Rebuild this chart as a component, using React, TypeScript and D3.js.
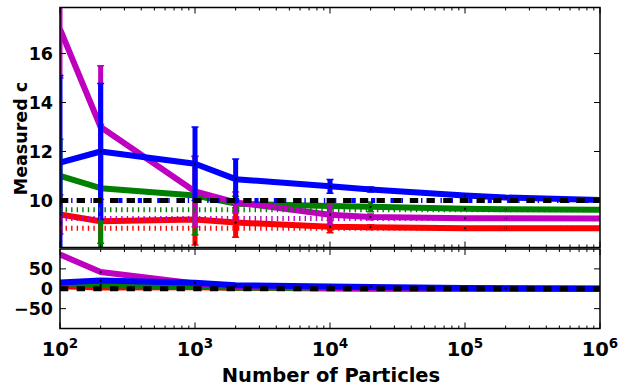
import React from 'react';
import * as d3 from 'd3';

// ---------- data ----------
const particles = [100, 200, 1000, 2000, 10000, 20000, 100000, 200000, 1000000];

const blueC = [11.55, 12.0, 11.5, 10.87, 10.58, 10.45, 10.2, 10.12, 10.02];
const blueErr = [3.55, 2.78, 1.5, 0.82, 0.28, 0.1, 0.05, 0.04, 0.03];
const greenC = [11.0, 10.5, 10.2, 9.87, 9.77, 9.74, 9.66, 9.64, 9.62];
const greenErr = [1.5, 2.6, 1.6, 0.3, 0.1, 0.2, 0.05, 0.04, 0.03];
const magentaC = [17.0, 13.0, 10.37, 9.92, 9.42, 9.33, 9.27, 9.27, 9.26];
const magentaErr = [2.0, 2.5, 1.44, 0.43, 0.39, 0.12, 0.05, 0.04, 0.03];
const redC = [9.43, 9.15, 9.22, 9.1, 8.93, 8.91, 8.87, 8.87, 8.87];
const redErr = [0.8, 0.9, 1.04, 0.6, 0.25, 0.1, 0.05, 0.04, 0.03];

// percent deviation from the true value (lower panel)
const blueDev = [16, 20.5, 15, 8.7, 5.8, 4.5, 2, 1.2, 0.2];
const greenDev = [14.3, 9.1, 6.0, 2.6, 1.6, 1.2, 0.4, 0.2, 0];
const magentaDev = [86, 42, 13, 7.1, 1.7, 0.8, 0.1, 0.1, 0];
const redDev = [6.3, 3.2, 3.9, 2.6, 0.9, 0.5, 0, 0, 0];

// true values (reference lines)
const trueBlue = 10;
const trueGreen = 9.62;
const trueMagenta = 9.26;
const trueRed = 8.87;
const trueBlack = 10;

const xTickExponents = [2, 3, 4, 5, 6];
const topYTicks = [10, 12, 14, 16];
const bottomYTicks = [-50, 0, 50];

const COLORS = { blue: '#0000ff', green: '#008000', magenta: '#bf00bf', red: '#ff0000', black: '#000000' };

// draw order: bottom -> top
const series = [
  { name: 'red', color: COLORS.red, c: redC, err: redErr, dev: redDev },
  { name: 'green', color: COLORS.green, c: greenC, err: greenErr, dev: greenDev },
  { name: 'magenta', color: COLORS.magenta, c: magentaC, err: magentaErr, dev: magentaDev },
  { name: 'blue', color: COLORS.blue, c: blueC, err: blueErr, dev: blueDev },
];

const refLines = [
  { value: trueBlue, color: COLORS.blue, dash: '4.17 6.94 1.39 6.94' },
  { value: trueGreen, color: COLORS.green, dash: '1.39 4.17' },
  { value: trueMagenta, color: COLORS.magenta, dash: '1.39 4.17' },
  { value: trueRed, color: COLORS.red, dash: '1.39 4.17' },
];

const FONT = '"DejaVu Sans", sans-serif';

export default function App() {
  const W = 630, H = 391;
  const L = 60, R = 600;
  const tY0 = 7.5, tY1 = 247.5, bY0 = 249, bY1 = 328.5;

  const x = d3.scaleLog().domain([1e2, 1e6]).range([L, R]);
  const yTop = d3.scaleLinear().domain([8.08, 17.88]).range([tY1, tY0]);
  const yBot = d3.scaleLinear().domain([-100, 100]).range([bY1, bY0]);

  const majorX = xTickExponents.map((e) => Math.pow(10, e));
  const minorX: number[] = [];
  for (let e = 2; e < 6; e++) for (let k = 2; k <= 9; k++) minorX.push(k * Math.pow(10, e));

  const lineTop = (vals: number[]) =>
    d3.line<number>().x((_, i) => x(particles[i])).y((d) => yTop(d))(vals) || '';
  const lineBot = (vals: number[]) =>
    d3.line<number>().x((_, i) => x(particles[i])).y((d) => yBot(d))(vals) || '';

  const LW = 6;

  const xTicksFor = (yEdge: number, dir: number, key: string) => (
    <g key={key}>
      {majorX.map((v) => (
        <line key={'M' + v} x1={x(v)} x2={x(v)} y1={yEdge} y2={yEdge + dir * 6} stroke="#000" strokeWidth={1} />
      ))}
      {minorX.map((v) => (
        <line key={'m' + v} x1={x(v)} x2={x(v)} y1={yEdge} y2={yEdge + dir * 3} stroke="#000" strokeWidth={1} />
      ))}
    </g>
  );

  return (
    <svg width={W} height={H} viewBox={`0 0 ${W} ${H}`} style={{ position: 'absolute', left: 0, top: 0, background: '#fff' }}
      fontFamily={FONT} fontWeight="bold">
      <defs>
        <clipPath id="clipTop"><rect x={L} y={tY0} width={R - L} height={tY1 - tY0} /></clipPath>
        <clipPath id="clipBot"><rect x={L} y={bY0} width={R - L} height={bY1 - bY0} /></clipPath>
      </defs>
      <rect x={0} y={0} width={W} height={H} fill="#fff" />

      {/* ---------- top panel ---------- */}
      <g clipPath="url(#clipTop)">
        {series.map((s) => (
          <g key={s.name}>
            <path d={lineTop(s.c)} fill="none" stroke={s.color} strokeWidth={LW} strokeLinejoin="round" />
            {s.c.map((v, i) => {
              const px = x(particles[i]);
              const yHi = yTop(v + s.err[i]);
              const yLo = yTop(v - s.err[i]);
              return (
                <g key={i}>
                  <line x1={px} x2={px} y1={yHi} y2={yLo} stroke={s.color} strokeWidth={5} />
                  <line x1={px - 3.5} x2={px + 3.5} y1={yHi} y2={yHi} stroke={s.color} strokeWidth={1.5} />
                  <line x1={px - 3.5} x2={px + 3.5} y1={yLo} y2={yLo} stroke={s.color} strokeWidth={1.5} />
                </g>
              );
            })}
            {s.c.map((v, i) => (
              <rect key={'d' + i} x={x(particles[i]) - 1} y={yTop(v) - 1} width={2} height={2} fill="#000" />
            ))}
          </g>
        ))}
        {refLines.map((r) => (
          <line key={r.color} x1={L} x2={R} y1={yTop(r.value)} y2={yTop(r.value)} stroke={r.color}
            strokeWidth={5} strokeDasharray={r.dash} />
        ))}
        <line x1={L} x2={R} y1={yTop(trueBlack)} y2={yTop(trueBlack)} stroke="#000" strokeWidth={5} strokeDasharray="8.33 8.33" />
      </g>

      {/* ---------- bottom panel ---------- */}
      <g clipPath="url(#clipBot)">
        {series.map((s) => (
          <g key={s.name}>
            <path d={lineBot(s.dev)} fill="none" stroke={s.color} strokeWidth={LW} strokeLinejoin="round" />
            {s.dev.map((v, i) => (
              <rect key={'d' + i} x={x(particles[i]) - 1} y={yBot(v) - 1} width={2} height={2} fill="#000" />
            ))}
          </g>
        ))}
        <line x1={L} x2={R} y1={yBot(0)} y2={yBot(0)} stroke="#000" strokeWidth={5} strokeDasharray="8.33 8.33" />
      </g>

      {/* ---------- frames & ticks ---------- */}
      <rect x={L} y={tY0} width={R - L} height={tY1 - tY0} fill="none" stroke="#000" strokeWidth={1.5} />
      <rect x={L} y={bY0} width={R - L} height={bY1 - bY0} fill="none" stroke="#000" strokeWidth={1.5} />

      {xTicksFor(tY0, 1, 'tt')}
      {xTicksFor(tY1, -1, 'tb')}
      {xTicksFor(bY0, 1, 'bt')}
      {xTicksFor(bY1, -1, 'bb')}

      {topYTicks.map((t) => (
        <g key={'yt' + t}>
          <line x1={L} x2={L + 6} y1={yTop(t)} y2={yTop(t)} stroke="#000" strokeWidth={1} />
          <line x1={R} x2={R - 6} y1={yTop(t)} y2={yTop(t)} stroke="#000" strokeWidth={1} />
          <text x={53} y={yTop(t)} dy="0.36em" textAnchor="end" fontSize={17.5}>{t}</text>
        </g>
      ))}
      {bottomYTicks.map((t) => (
        <g key={'yb' + t}>
          <line x1={L} x2={L + 6} y1={yBot(t)} y2={yBot(t)} stroke="#000" strokeWidth={1} />
          <line x1={R} x2={R - 6} y1={yBot(t)} y2={yBot(t)} stroke="#000" strokeWidth={1} />
          <text x={53} y={yBot(t)} dy="0.36em" textAnchor="end" fontSize={17.5}>{t < 0 ? '\u2212' + Math.abs(t) : t}</text>
        </g>
      ))}

      {xTickExponents.map((e) => (
        <text key={'xl' + e} x={x(Math.pow(10, e))} y={356} textAnchor="middle" fontSize={19.5}>
          10<tspan dy={-8.5} fontSize={13.5}>{e}</tspan>
        </text>
      ))}

      <text x={331} y={382} textAnchor="middle" fontSize={19.5}>Number of Particles</text>
      <text transform="translate(26.5,138.5) rotate(-90)" textAnchor="middle" fontSize={17.5}>Measured c</text>
    </svg>
  );
}
